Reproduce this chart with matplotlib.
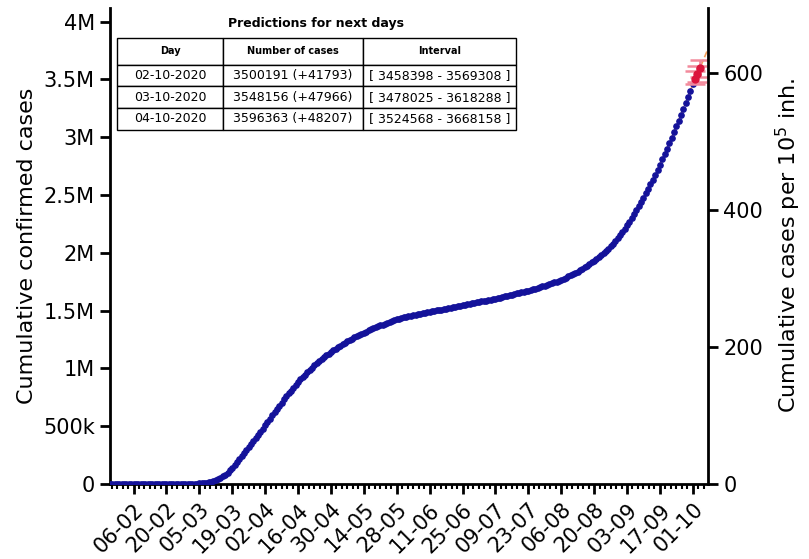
import matplotlib
matplotlib.use('Agg')
import matplotlib.pyplot as plt
import matplotlib.dates as mdates
from matplotlib.ticker import FuncFormatter, MultipleLocator, AutoMinorLocator, FixedLocator
import numpy as np
import pandas as pd

# cumulative confirmed cases (thousands), one value per day from 27-01-2020
cases_jan = [0.01, 0.02, 0.02, 0.03, 0.03]
cases_feb = [0.03, 0.03, 0.03, 0.04, 0.04, 0.04, 0.04, 0.04, 0.05, 0.05,
             0.05, 0.05, 0.05, 0.05, 0.05, 0.05, 0.05, 0.05, 0.05, 0.05,
             0.06, 0.08, 0.15, 0.25, 0.35, 0.45, 0.65, 0.9, 1.2]
cases_mar = [1.7, 2.3, 3.0, 4.0, 5.3, 7.0, 9.2, 12, 15.5, 20,
             26, 33, 42, 53, 66, 81, 98, 118, 140, 164,
             189, 214, 240, 266, 292, 318, 345, 372, 398, 424, 451]
cases_apr = [479, 507, 536, 565, 594, 622, 650, 678, 705, 732,
             758, 784, 809, 834, 858, 882, 905, 927, 948, 969,
             989, 1008, 1027, 1045, 1063, 1080, 1097, 1113, 1129, 1144]
cases_may = [1158, 1172, 1185, 1198, 1211, 1223, 1235, 1247, 1258, 1269,
             1280, 1290, 1300, 1310, 1320, 1329, 1338, 1347, 1356, 1364,
             1372, 1380, 1388, 1396, 1403, 1410, 1417, 1424, 1431, 1438, 1444]
cases_jun = [1449, 1453, 1458, 1462, 1466, 1470, 1474, 1478, 1482, 1486,
             1490, 1494, 1498, 1502, 1506, 1510, 1514, 1518, 1522, 1526,
             1530, 1534, 1538, 1542, 1547, 1551, 1555, 1559, 1564, 1568]
cases_jul = [1572, 1576, 1580, 1584, 1588, 1592, 1596, 1600, 1604, 1609,
             1614, 1619, 1624, 1629, 1634, 1639, 1644, 1649, 1654, 1659,
             1664, 1669, 1674, 1680, 1686, 1692, 1698, 1704, 1710, 1716, 1722]
cases_aug = [1729, 1736, 1744, 1752, 1760, 1769, 1778, 1787, 1797, 1807,
             1817, 1828, 1839, 1851, 1863, 1876, 1889, 1903, 1917, 1932,
             1947, 1963, 1980, 1997, 2016, 2036, 2057, 2079, 2102, 2126, 2151]
cases_sep = [2179, 2208, 2238, 2269, 2301, 2334, 2368, 2403, 2439, 2476,
             2514, 2553, 2593, 2634, 2676, 2719, 2763, 2808, 2854, 2901,
             2949, 2997, 3046, 3095, 3145, 3196, 3247, 3299, 3351, 3404]
cases_oct = [3458.398]

pred_days = ['02-10-2020', '03-10-2020', '04-10-2020']
pred_cases = [3500191, 3548156, 3596363]
pred_new = [41793, 47966, 48207]
pred_low = [3458398, 3478025, 3524568]
pred_high = [3569308, 3618288, 3668158]

# model curve continued a few days past the predictions (thousands)
fit_tail = [3645, 3693, 3742]

population = 593e6

cases = np.array(cases_jan + cases_feb + cases_mar + cases_apr + cases_may +
                 cases_jun + cases_jul + cases_aug + cases_sep + cases_oct) * 1e3
dates = pd.date_range('2020-01-27', periods=len(cases), freq='D')
p_dates = pd.to_datetime(pred_days, format='%d-%m-%Y')
fit_dates = pd.date_range(p_dates[-1] + pd.Timedelta(days=1), periods=len(fit_tail), freq='D')
fit_x = list(dates) + list(p_dates) + list(fit_dates)
fit_y = list(cases) + pred_cases + [v * 1e3 for v in fit_tail]

fig = plt.figure(figsize=(8.09, 5.59), dpi=100)
ax = fig.add_subplot(111)
fig.subplots_adjust(left=0.136, right=0.875, bottom=0.134, top=0.986)

ax.plot(fit_x, fit_y, color='#f5a05a', lw=1.2, ls='--', zorder=2)
ax.plot(dates, cases, 'o', color='#14129a', ms=3.8, zorder=3)
yerr = [np.array(pred_cases) - np.array(pred_low), np.array(pred_high) - np.array(pred_cases)]
ax.errorbar(p_dates, pred_cases, yerr=yerr, fmt='o', color='crimson', ms=5,
            ecolor='#f28a9c', elinewidth=2, capsize=7, capthick=1.8, zorder=4)

ax.set_xlim(pd.Timestamp('2020-01-27'), pd.Timestamp('2020-10-07 10:00'))
ax.set_ylim(0, 4.12e6)

major = pd.date_range('2020-02-06', '2020-10-01', freq='14D')
ax.xaxis.set_major_locator(FixedLocator(mdates.date2num(major)))
ax.xaxis.set_major_formatter(mdates.DateFormatter('%d-%m'))
ax.xaxis.set_minor_locator(AutoMinorLocator(6))
ax.yaxis.set_major_locator(MultipleLocator(5e5))


def fmt_cases(v, pos):
    if v == 0:
        return '0'
    if v < 1e6:
        return '%dk' % (v / 1e3)
    return ('%g' % (v / 1e6)) + 'M'


ax.yaxis.set_major_formatter(FuncFormatter(fmt_cases))
ax.set_ylabel('Cumulative confirmed cases', fontsize=16)

for s in ['top', 'right']:
    ax.spines[s].set_visible(False)
for s in ['left', 'bottom']:
    ax.spines[s].set_linewidth(2)
ax.tick_params(axis='both', which='major', labelsize=15, width=2, length=7.5)
ax.tick_params(axis='x', which='minor', width=1.5, length=3.5)
plt.setp(ax.get_xticklabels(), rotation=45, ha='right', rotation_mode='anchor')

ax2 = ax.twinx()
ax2.set_ylim(0, 4.12e6 * 1e5 / population)
ax2.yaxis.set_major_locator(MultipleLocator(200))
for s in ['top', 'left', 'bottom']:
    ax2.spines[s].set_visible(False)
ax2.spines['right'].set_linewidth(2)
ax2.tick_params(axis='y', labelsize=15, width=2, length=7.5)
ax2.set_ylabel('Cumulative cases per $10^5$ inh.', fontsize=16, labelpad=8)

# predictions table
rows = [[d, '%d (+%d)' % (c, n), '[ %d - %d ]' % (lo, hi)]
        for d, c, n, lo, hi in zip(pred_days, pred_cases, pred_new, pred_low, pred_high)]
tab = ax.table(cellText=rows, colLabels=['Day', 'Number of cases', 'Interval'],
               cellLoc='center', colWidths=[0.266, 0.351, 0.383],
               bbox=[0.0117, 0.744, 0.667, 0.193], zorder=5)
tab.auto_set_font_size(False)
tab.set_fontsize(9)
for (r, c), cell in tab.get_celld().items():
    cell.set_linewidth(1)
    if r == 0:
        cell.set_height(cell.get_height() * 1.23)
        cell.get_text().set_fontweight('bold')
        cell.get_text().set_fontsize(7)
ax.text(0.345, 0.968, 'Predictions for next days', transform=ax.transAxes,
        ha='center', va='center', fontsize=9, fontweight='bold')

fig.savefig('out.png', dpi=100)
